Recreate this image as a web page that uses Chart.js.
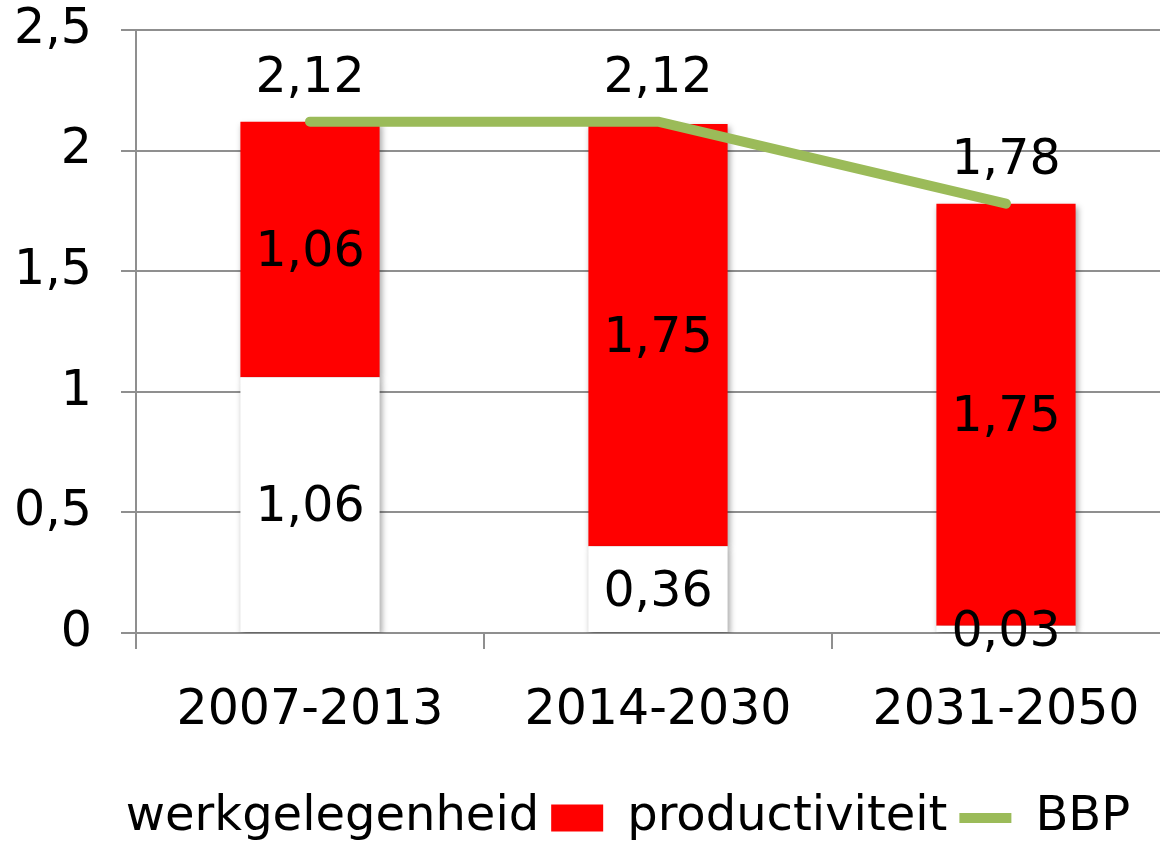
<!DOCTYPE html>
<html>
<head>
<meta charset="utf-8">
<script src="https://cdn.jsdelivr.net/npm/chart.js@4.4.1/dist/chart.umd.min.js"></script>
<style>
  html, body { margin: 0; padding: 0; background: #fff; overflow: hidden; }
  #wrap { width: 1200px; height: 842px; }
</style>
</head>
<body>
<div id="wrap"><canvas id="bbpChart" width="1200" height="842"></canvas></div>
<script>
// Data
const periods = ['2007-2013', '2014-2030', '2031-2050'];
const werkgelegenheid = [1.06, 0.36, 0.03];
const productiviteit = [1.06, 1.75, 1.75];
const bbp = [2.12, 2.12, 1.78];
const yTicks = [0, 0.5, 1, 1.5, 2, 2.5];

const FONT = '"DejaVu Sans", Verdana, sans-serif';
const GRID = '#8f8f8f';

function comma(v, digits) {
  return (digits ? v.toFixed(digits) : String(v)).replace('.', ',');
}

// soft shadow under the bars
const barShadow = {
  id: 'barShadow',
  beforeDatasetDraw(chart, args) {
    if (args.meta.type !== 'bar') return;
    const ctx = chart.ctx;
    ctx.save();
    ctx.shadowColor = 'rgba(0,0,0,0.35)';
    ctx.shadowBlur = 6;
    ctx.shadowOffsetX = 2;
    ctx.shadowOffsetY = 3;
  },
  afterDatasetDraw(chart, args) {
    if (args.meta.type !== 'bar') return;
    chart.ctx.restore();
  }
};

// value labels (no datalabels plugin available)
const valueLabels = {
  id: 'valueLabels',
  afterDatasetsDraw(chart) {
    const ctx = chart.ctx;
    ctx.save();
    ctx.font = '49px ' + FONT;
    ctx.fillStyle = '#000';
    ctx.textAlign = 'center';
    ctx.textBaseline = 'middle';
    chart.data.datasets.forEach((ds, di) => {
      const meta = chart.getDatasetMeta(di);
      meta.data.forEach((el, i) => {
        const txt = comma(ds.data[i], 2);
        if (meta.type === 'bar') {
          ctx.fillText(txt, el.x, (el.y + el.base) / 2 + 4);
        } else {
          ctx.fillText(txt, el.x, el.y - 42);
        }
      });
    });
    ctx.restore();
  }
};

const ctx = document.getElementById('bbpChart').getContext('2d');
new Chart(ctx, {
  type: 'bar',
  data: {
    labels: periods,
    datasets: [{
      label: 'werkgelegenheid',
      data: werkgelegenheid,
      backgroundColor: '#ffffff',
      borderWidth: 0,
      pointStyle: 'rect',
      order: 1
    }, {
      label: 'productiviteit',
      data: productiviteit,
      backgroundColor: '#ff0000',
      borderWidth: 0,
      pointStyle: 'rect',
      order: 1
    }, {
      type: 'line',
      label: 'BBP',
      data: bbp,
      borderColor: '#9bbb59',
      backgroundColor: '#9bbb59',
      borderWidth: 10,
      borderCapStyle: 'round',
      borderJoinStyle: 'round',
      pointRadius: 0,
      pointStyle: 'line',
      tension: 0,
      order: 0
    }]
  },
  options: {
    responsive: false,
    animation: false,
    barPercentage: 0.8,
    categoryPercentage: 0.5,
    layout: { padding: { left: 0, right: 20, top: 30, bottom: -10 } },
    scales: {
      x: {
        stacked: true,
        afterFit(scale) {
          scale.height = 149;
          scale.paddingLeft = 0;
          scale.paddingRight = 0;
        },
        grid: {
          drawOnChartArea: false,
          color: GRID,
          lineWidth: 2,
          tickLength: 16
        },
        border: { color: GRID, width: 2 },
        ticks: {
          color: '#000',
          font: { family: FONT, size: 49 },
          padding: 33
        }
      },
      y: {
        stacked: true,
        min: 0,
        max: 2.5,
        afterBuildTicks(scale) {
          scale.ticks = yTicks.map(v => ({ value: v }));
        },
        afterFit(scale) {
          scale.width = 136;
          scale.paddingTop = 0;
          scale.paddingBottom = 0;
        },
        grid: {
          color: GRID,
          lineWidth: 2,
          tickLength: 15
        },
        border: { color: GRID, width: 2 },
        ticks: {
          color: '#000',
          font: { family: FONT, size: 49 },
          padding: 29,
          callback: v => comma(v)
        }
      }
    },
    plugins: {
      tooltip: { enabled: false },
      legend: {
        position: 'bottom',
        labels: {
          color: '#000',
          font: { family: FONT, size: 48 },
          usePointStyle: true,
          pointStyleWidth: 52,
          boxHeight: 27,
          padding: 12,
          sort: (a, b) => a.datasetIndex - b.datasetIndex
        }
      }
    }
  },
  plugins: [barShadow, valueLabels]
});
</script>
</body>
</html>
